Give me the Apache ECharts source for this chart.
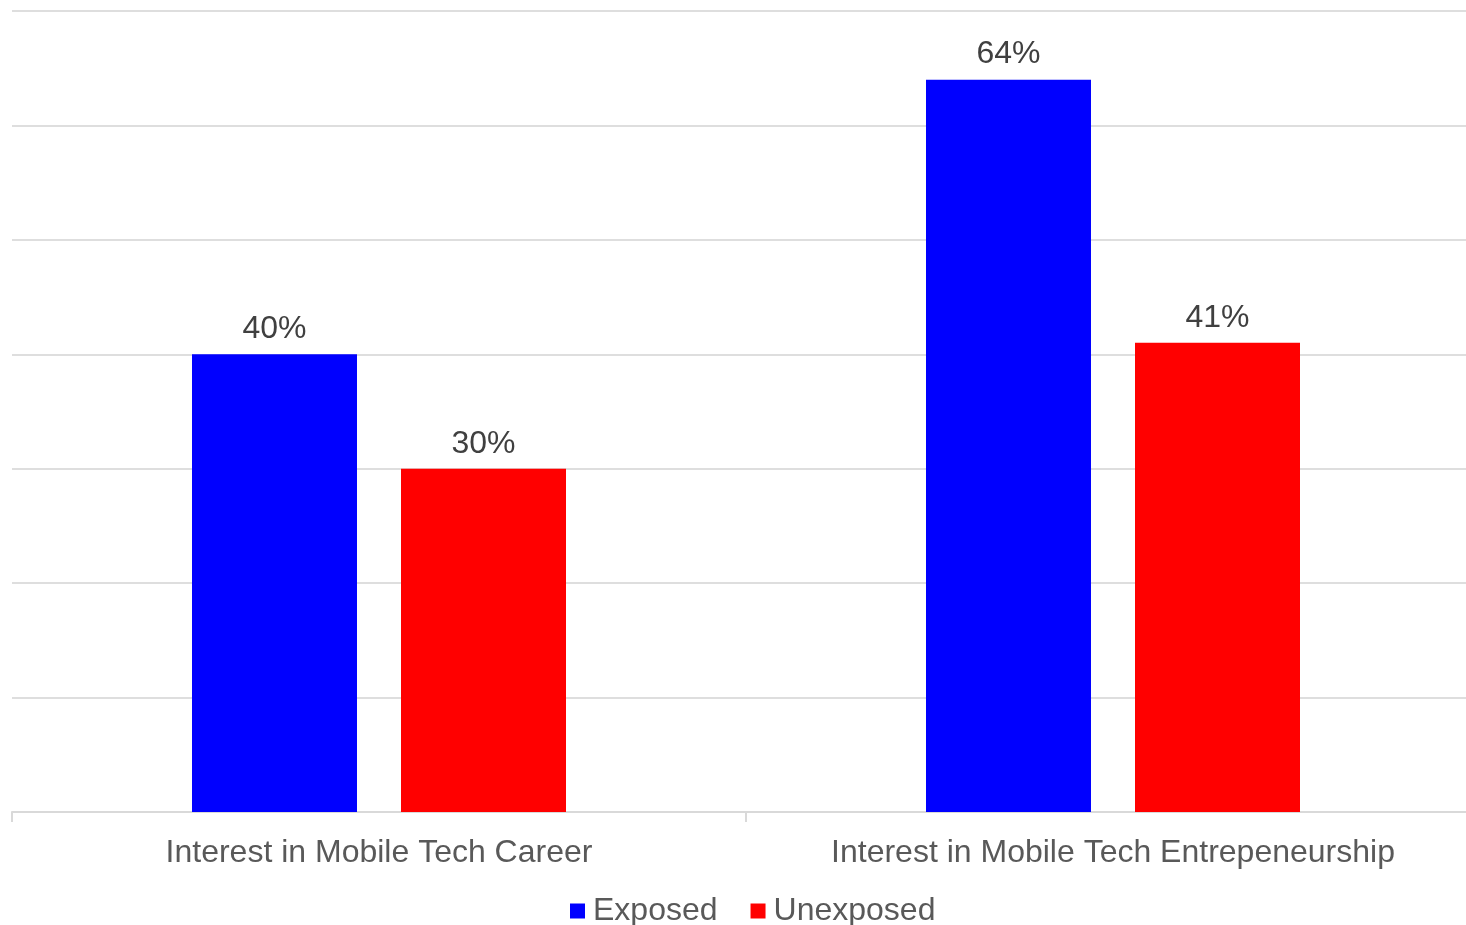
<!DOCTYPE html>
<html>
<head>
<meta charset="utf-8">
<title>Interest in Mobile Tech</title>
<script src="https://cdn.jsdelivr.net/npm/echarts@6/dist/echarts.min.js"></script>
<style>
  html, body { margin: 0; padding: 0; background: #ffffff; overflow: hidden; }
  /* plot area runs slightly past the right edge of the window */
  #chart { width: 1480px; height: 925px; }
</style>
</head>
<body>
<div id="chart"></div>
<script>
// Survey groups and percentages
const categories = ['Interest in Mobile Tech Career', 'Interest in Mobile Tech Entrepeneurship'];
const exposedValues = [40, 64];
const unexposedValues = [30, 41];
const seriesNames = ['Exposed', 'Unexposed'];

const FONT = '"Liberation Sans", Arial, sans-serif';

const chart = echarts.init(document.getElementById('chart'), null, { renderer: 'canvas' });

const labelStyle = {
  show: true,
  position: 'top',
  distance: 9,
  color: '#404040',
  fontSize: 32,
  fontFamily: FONT,
  formatter: p => p.value + '%'
};

chart.setOption({
  animation: false,
  backgroundColor: '#ffffff',
  textStyle: { fontFamily: FONT },
  grid: { left: 12, right: 0, top: 11, bottom: 113, containLabel: false },
  legend: {
    data: seriesNames,
    left: 570,
    top: 895,
    padding: 0,
    itemWidth: 15,
    itemHeight: 15,
    itemGap: 33,
    icon: 'rect',
    textStyle: { color: '#595959', fontSize: 32, fontFamily: FONT, padding: [0, 0, 0, 3] }
  },
  xAxis: {
    type: 'category',
    data: categories,
    axisLine: { show: true, lineStyle: { color: '#d9d9d9', width: 2 } },
    axisTick: { show: true, length: 10, lineStyle: { color: '#d9d9d9', width: 2 } },
    axisLabel: { color: '#595959', fontSize: 32, fontFamily: FONT, margin: 25 },
    splitLine: { show: false }
  },
  yAxis: {
    type: 'value',
    min: 0,
    max: 70,
    interval: 10,
    axisLine: { show: false },
    axisTick: { show: false },
    axisLabel: { show: false },
    splitLine: { show: true, lineStyle: { color: '#dedede', width: 2 } }
  },
  series: [
    {
      name: seriesNames[0],
      type: 'bar',
      data: exposedValues,
      barWidth: 165,
      barGap: '26.67%',
      itemStyle: { color: '#0000ff' },
      label: labelStyle
    },
    {
      name: seriesNames[1],
      type: 'bar',
      data: unexposedValues,
      barWidth: 165,
      barGap: '26.67%',
      itemStyle: { color: '#ff0000' },
      label: labelStyle
    }
  ]
});
</script>
</body>
</html>
